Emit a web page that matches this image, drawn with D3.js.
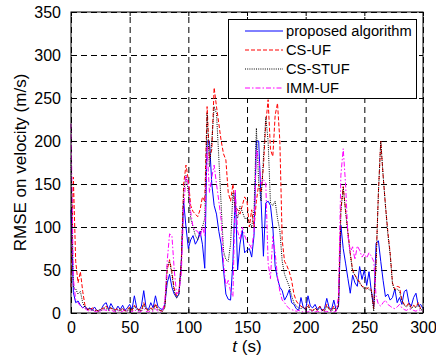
<!DOCTYPE html>
<html>
<head>
<meta charset="utf-8">
<script src="https://cdn.jsdelivr.net/npm/d3@7"></script>
<style>
  body { margin: 0; background: #fff; }
  svg { display: block; font-family: "Liberation Sans", Arial, sans-serif; }
</style>
</head>
<body>
<div id="chart"></div>
<script>
// sample times (s), every 2 s from 0 to 300
const time = d3.range(0, 301, 2);

const xTicks = [0, 50, 100, 150, 200, 250, 300];
const yTicks = [0, 50, 100, 150, 200, 250, 300, 350];

const seriesNames = ['proposed algorithm', 'CS-UF', 'CS-STUF', 'IMM-UF'];

// RMSE on velocity (m/s)
const proposed = [
  120, 24, 12, 14, 9, 6, 8, 4, 6, 3,
  7, 3, 2, 5, 10, 12, 4, 11, 6, 3,
  8, 4, 9, 3, 6, 10, 4, 20, 6, 3,
  8, 26, 6, 4, 12, 6, 20, 8, 5, 4,
  10, 35, 45, 30, 22, 18, 22, 60, 130, 100,
  75, 85, 90, 80, 85, 95, 80, 52, 200, 200,
  150, 125, 115, 95, 80, 50, 22, 16, 15, 60,
  140, 50, 80, 96, 70, 73, 75, 65, 90, 200,
  200, 130, 66, 128, 130, 125, 100, 54, 40, 30,
  26, 15, 20, 27, 12, 10, 5, 3, 18, 6,
  4, 20, 8, 6, 10, 4, 8, 3, 5, 17,
  6, 4, 15, 3, 8, 102, 75, 58, 40, 23,
  44, 35, 31, 54, 39, 50, 32, 48, 25, 7,
  81, 84, 60, 38, 19, 22, 15, 18, 28, 12,
  18, 10, 25, 27, 12, 8, 18, 23, 8, 10,
  5
];

const csUf = [
  30, 158, 60, 35, 48, 25, 8, 5, 3, 6,
  4, 3, 2, 5, 6, 8, 4, 6, 3, 4,
  5, 3, 6, 2, 4, 7, 3, 9, 5, 4,
  3, 12, 5, 3, 6, 4, 11, 5, 3, 2,
  8, 50, 62, 48, 28, 20, 25, 60, 150, 172,
  155, 125, 118, 115, 112, 120, 135, 130, 240, 180,
  190, 262, 240, 220, 200, 185, 178, 140, 130, 150,
  124, 120, 115, 125, 135, 130, 100, 120, 100, 130,
  150, 140, 170, 220, 248, 190, 182, 230, 244, 200,
  85, 60, 55, 48, 38, 22, 14, 10, 8, 6,
  5, 10, 4, 3, 6, 3, 8, 4, 3, 10,
  5, 3, 8, 3, 10, 120, 147, 120, 95, 70,
  50, 44, 40, 36, 31, 30, 28, 30, 27, 5,
  60, 140, 200, 160, 125, 95, 70, 35, 27, 31,
  30, 15, 10, 8, 12, 6, 9, 7, 12, 5,
  4
];

const csStuf = [
  180, 30, 28, 22, 25, 12, 6, 4, 5, 3,
  3, 2, 4, 3, 6, 5, 3, 7, 4, 2,
  4, 2, 5, 3, 2, 6, 3, 8, 4, 3,
  2, 10, 4, 3, 5, 3, 9, 4, 3, 2,
  6, 55, 60, 45, 25, 17, 22, 55, 140, 160,
  140, 110, 100, 90, 85, 92, 100, 110, 232, 170,
  200, 240, 232, 180, 125, 72, 62, 60, 80, 140,
  120, 110, 124, 118, 110, 110, 105, 100, 120, 215,
  150, 130, 180, 228, 200, 128, 125, 130, 110, 96,
  60, 45, 38, 31, 20, 12, 8, 6, 5, 7,
  4, 8, 3, 2, 5, 3, 6, 3, 2, 8,
  4, 2, 6, 2, 8, 118, 146, 118, 92, 68,
  48, 44, 38, 35, 31, 28, 30, 27, 26, 2,
  55, 140, 200, 160, 125, 92, 68, 34, 26, 28,
  25, 14, 9, 7, 10, 5, 8, 6, 10, 4,
  3
];

const immUf = [
  220, 40, 15, 12, 8, 6, 5, 3, 2, 4,
  2, 1, 3, 2, 4, 3, 2, 4, 2, 1,
  3, 1, 2, 4, 2, 3, 1, 4, 2, 1,
  2, 5, 2, 1, 3, 2, 5, 2, 1, 2,
  15, 60, 92, 90, 50, 22, 25, 45, 120, 160,
  150, 118, 100, 96, 95, 88, 100, 90, 193, 140,
  158, 172, 150, 130, 108, 58, 31, 38, 25, 19,
  143, 95, 85, 100, 90, 83, 80, 75, 95, 190,
  180, 150, 155, 151, 58, 40, 89, 70, 42, 25,
  15, 12, 8, 5, 4, 3, 2, 3, 2, 1,
  2, 1, 3, 2, 1, 2, 1, 3, 1, 2,
  1, 2, 1, 2, 20, 160, 191, 150, 90, 70,
  77, 62, 78, 73, 65, 69, 64, 70, 66, 60,
  20, 10, 8, 12, 15, 10, 8, 6, 5, 7,
  10, 6, 4, 3, 5, 4, 3, 2, 4, 3,
  2
];

const seriesValues = [proposed, csUf, csStuf, immUf];
const colors = ['#0000ff', '#ff0000', '#000000', '#ff00ff'];
const dashes = [null, '4,2', '1,1.2', '5,2,1.5,2'];

const width = 436, height = 359;
const plotL = 71, plotR = 423, plotT = 12, plotB = 313;

const svg = d3.select('#chart').append('svg')
  .attr('width', width)
  .attr('height', height);

const x = d3.scaleLinear().domain([0, 300]).range([plotL, plotR]);
const y = d3.scaleLinear().domain([0, 350]).range([plotB, plotT]);

// grid
svg.append('g')
  .attr('class', 'grid')
  .attr('transform', `translate(0,${plotB})`)
  .call(d3.axisBottom(x).tickValues(xTicks).tickSize(-(plotB - plotT)).tickFormat(''));

svg.append('g')
  .attr('class', 'grid')
  .attr('transform', `translate(${plotL},0)`)
  .call(d3.axisLeft(y).tickValues(yTicks).tickSize(-(plotR - plotL)).tickFormat(''));

svg.selectAll('.grid .domain').remove();
svg.selectAll('.grid line')
  .attr('stroke', '#000')
  .attr('stroke-dasharray', '6,4');

// series
const line = d3.line()
  .x((d, i) => x(time[i]))
  .y(d => y(d));

svg.append('g')
  .selectAll('path')
  .data(seriesValues)
  .join('path')
  .attr('d', d => line(d))
  .attr('fill', 'none')
  .attr('stroke', (d, i) => colors[i])
  .attr('stroke-width', 1)
  .attr('stroke-dasharray', (d, i) => dashes[i]);

// box and inward ticks
svg.append('rect')
  .attr('x', plotL)
  .attr('y', plotT)
  .attr('width', plotR - plotL)
  .attr('height', plotB - plotT)
  .attr('fill', 'none')
  .attr('stroke', '#000');

svg.append('g')
  .attr('class', 'ax')
  .attr('transform', `translate(0,${plotB})`)
  .call(d3.axisBottom(x).tickValues(xTicks).tickSize(-4).tickPadding(9));
svg.append('g')
  .attr('class', 'ax')
  .attr('transform', `translate(${plotL},0)`)
  .call(d3.axisLeft(y).tickValues(yTicks).tickSize(-4).tickPadding(10));
svg.append('g')
  .attr('class', 'ax')
  .attr('transform', `translate(0,${plotT})`)
  .call(d3.axisTop(x).tickValues(xTicks).tickSize(-4).tickFormat(''));
svg.append('g')
  .attr('class', 'ax')
  .attr('transform', `translate(${plotR},0)`)
  .call(d3.axisRight(y).tickValues(yTicks).tickSize(-4).tickFormat(''));

svg.selectAll('.ax .domain').remove();
svg.selectAll('.ax line').attr('stroke', '#000');
svg.selectAll('.ax text')
  .attr('fill', '#000')
  .style('font-size', '16px')
  .style('font-family', '"Liberation Sans", Arial, sans-serif');

// axis titles
svg.append('text')
  .attr('transform', `translate(26,${(plotT + plotB) / 2}) rotate(-90)`)
  .attr('text-anchor', 'middle')
  .style('font-size', '17px')
  .text('RMSE on velocity (m/s)');

const xLabel = svg.append('text')
  .attr('x', (plotL + plotR) / 2)
  .attr('y', 352)
  .attr('text-anchor', 'middle')
  .style('font-size', '17px');
xLabel.append('tspan').style('font-style', 'italic').text('t');
xLabel.append('tspan').text(' (s)');

// legend
const legend = svg.append('g');
legend.append('rect')
  .attr('x', 228.5)
  .attr('y', 19.5)
  .attr('width', 188)
  .attr('height', 79)
  .attr('fill', '#fff')
  .attr('stroke', '#000');

const rows = legend.selectAll('g.row')
  .data(seriesNames)
  .join('g')
  .attr('class', 'row')
  .attr('transform', (d, i) => `translate(0,${31 + i * 19})`);

rows.append('line')
  .attr('x1', 245)
  .attr('x2', 283)
  .attr('stroke', (d, i) => colors[i])
  .attr('stroke-dasharray', (d, i) => dashes[i]);

rows.append('text')
  .attr('x', 286)
  .attr('dy', '0.35em')
  .style('font-size', '14.7px')
  .text(d => d);
</script>
</body>
</html>
